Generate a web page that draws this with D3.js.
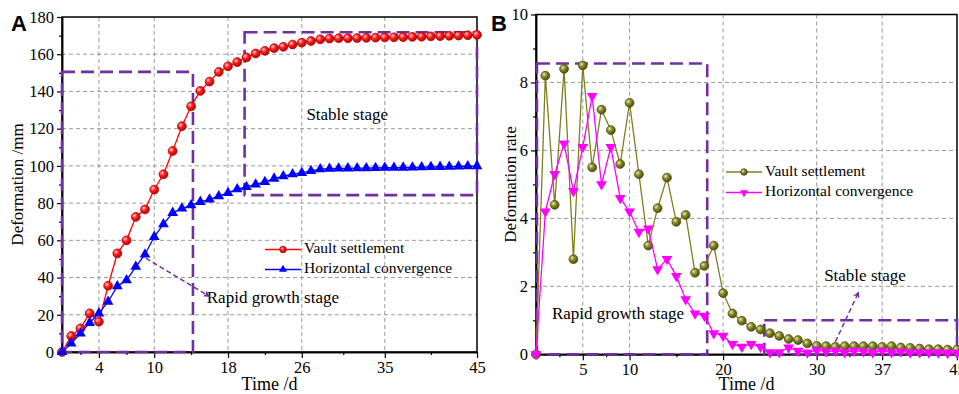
<!DOCTYPE html>
<html>
<head>
<meta charset="utf-8">
<script src="https://cdn.jsdelivr.net/npm/d3@7"></script>
<style>
  body { margin: 0; background: #fff; }
  svg { display: block; }
  text { font-family: "Liberation Serif", "Times New Roman", serif; fill: #000; }
</style>
</head>
<body>
<div id="chart"></div>
<script>
// ---- data ----
const days = [0,1,2,3,4,5,6,7,8,9,10,11,12,13,14,15,16,17,18,19,20,21,22,23,24,25,26,27,28,29,30,31,32,33,34,35,36,37,38,39,40,41,42,43,44,45];

// Panel A: cumulative deformation (mm)
const vaultSettlement = [0,8.6,12.7,20.8,16.3,35.6,53,60,72.6,76.6,
  87.3,95.5,108,121.3,132,140.3,145.3,150.5,153.5,155.8,
  158.3,160.4,161.8,163.3,164,165.2,166.2,167.1,168,168.4,
  168.6,168.6,168.7,168.8,168.9,169,169.1,169.2,169.3,169.4,
  169.6,169.7,169.9,170,170.2,170.4];
const horizontalConvergence = [0,4.6,10,15.7,20.8,27,35.4,38.6,45.8,52.4,
  61.9,68.7,74.8,77.1,78.9,80.7,82,83.7,85.5,87.5,
  88.7,90,91.4,93.2,94.5,95.5,96.2,97.3,98.2,98.5,
  98.6,98.7,98.8,98.8,98.9,99,99,99.1,99.2,99.3,
  99.4,99.5,99.6,99.7,99.8,99.9];

// Panel B: deformation rate
const vaultRate = [0,8.2,4.4,8.4,2.8,8.5,5.5,7.2,6.6,5.6,
  7.4,5.3,3.2,4.3,5.2,3.9,4.1,2.4,2.6,3.2,
  1.8,1.2,0.99,0.81,0.73,0.62,0.54,0.45,0.42,0.32,
  0.25,0.24,0.22,0.24,0.24,0.24,0.24,0.22,0.24,0.2,
  0.19,0.17,0.15,0.15,0.14,0.14];
const horizontalRate = [0,4.2,5.3,6.2,4.8,6.1,7.6,5.0,6.1,4.6,
  4.2,3.6,3.7,2.5,2.8,2.3,1.62,1.2,1.13,0.62,
  0.54,0.3,0.22,0.3,0.22,0.06,0.06,0.2,0.1,0.05,
  0.12,0.08,0.1,0.06,0.1,0.08,0.05,0.1,0.06,0.08,
  0.05,0.06,0.05,0.05,0.04,0.04];

// tick labels
const xTicksA = [4,10,18,26,35,45];
const xMinorA = [2,7,14,22,30.5,40];
const yTicksA = [0,20,40,60,80,100,120,140,160,180];
const yMinorA = [10,30,50,70,90,110,130,150,170];
const xTicksB = [5,10,20,30,37,45];
const xMinorB = [2.5,7.5,15,25,33.5,41];
const yTicksB = [0,2,4,6,8,10];
const yMinorB = [1,3,5,7,9];

const seriesNames = ["Vault settlement", "Horizontal convergence"];

// ---- drawing ----
const svg = d3.select("#chart").append("svg")
    .attr("width", 959)
    .attr("height", 394);

const defs = svg.append("defs");

// shaded "ball" markers
function sphereGradient(id, light, base, dark) {
    const grad = defs.append("radialGradient")
        .attr("id", id)
        .attr("cx", "35%").attr("cy", "35%").attr("r", "65%");
    grad.append("stop").attr("offset", "0%").attr("stop-color", light);
    grad.append("stop").attr("offset", "45%").attr("stop-color", base);
    grad.append("stop").attr("offset", "100%").attr("stop-color", dark);
}
sphereGradient("ballRed", "#ffd0d0", "#ff2020", "#c00000");
sphereGradient("ballOlive", "#e8e8b0", "#8a8a2a", "#4f4f10");

defs.append("marker")
    .attr("id", "arrowHead")
    .attr("viewBox", "0 0 10 10")
    .attr("refX", 9).attr("refY", 5)
    .attr("markerWidth", 7).attr("markerHeight", 7)
    .attr("markerUnits", "userSpaceOnUse")
    .attr("orient", "auto")
    .append("path")
    .attr("d", "M0,0 L10,5 L0,10 L3,5 Z")
    .attr("fill", "#7030a0");

const purple = "#7030a0";

function drawPanel(p) {
    const x = d3.scaleLinear().domain([0, 45]).range([p.left, p.right]);
    const y = d3.scaleLinear().domain(p.yDomain).range([p.bottom, p.top]);
    const g = svg.append("g");

    // dashed grid
    g.append("g").selectAll("line")
        .data(p.xTicks.filter(t => t < 45))
        .join("line")
        .attr("x1", d => x(d)).attr("x2", d => x(d))
        .attr("y1", p.top).attr("y2", p.bottom)
        .attr("stroke", "#9a9a9a").attr("stroke-width", 1)
        .attr("stroke-dasharray", "4,3");
    g.append("g").selectAll("line")
        .data(p.yTicks.filter(t => t > p.yDomain[0] && t < p.yDomain[1]))
        .join("line")
        .attr("x1", p.left).attr("x2", p.right)
        .attr("y1", d => y(d)).attr("y2", d => y(d))
        .attr("stroke", "#9a9a9a").attr("stroke-width", 1)
        .attr("stroke-dasharray", "4,3");

    // axes
    g.append("g")
        .attr("transform", `translate(0,${p.bottom})`)
        .call(d3.axisBottom(x).tickValues(p.xTicks).tickSize(6).tickSizeOuter(0).tickPadding(3));
    g.append("g")
        .attr("transform", `translate(0,${p.bottom})`)
        .call(d3.axisBottom(x).tickValues(p.xMinor).tickSize(3).tickSizeOuter(0).tickFormat(""));
    g.append("g")
        .attr("transform", `translate(${p.left},0)`)
        .call(d3.axisLeft(y).tickValues(p.yTicks).tickSize(5).tickSizeOuter(0).tickPadding(3));
    g.append("g")
        .attr("transform", `translate(${p.left},0)`)
        .call(d3.axisLeft(y).tickValues(p.yMinor).tickSize(3).tickSizeOuter(0).tickFormat(""));
    g.selectAll(".tick line").attr("stroke", "#000").attr("stroke-width", 1.2);
    g.selectAll(".domain").attr("stroke", "#000").attr("stroke-width", 1.5);
    g.selectAll(".tick text")
        .attr("font-family", "Liberation Serif")
        .style("font-family", '"Liberation Serif", serif')
        .style("font-size", "16.5px").attr("fill", "#000");

    // frame
    g.append("rect")
        .attr("x", p.left).attr("y", p.top)
        .attr("width", p.right - p.left).attr("height", p.bottom - p.top)
        .attr("fill", "none").attr("stroke", "#000").attr("stroke-width", 1.5);

    // stage boxes
    p.boxes.forEach(b => {
        g.append("rect")
            .attr("x", x(b.x0)).attr("y", y(b.y1))
            .attr("width", x(b.x1) - x(b.x0)).attr("height", y(b.y0) - y(b.y1))
            .attr("fill", "none").attr("stroke", purple).attr("stroke-width", 2.6)
            .attr("stroke-dasharray", "13,6");
    });

    // series
    p.series.forEach(s => {
        const line = d3.line().x((d, i) => x(days[i])).y(d => y(d));
        g.append("path")
            .datum(s.values)
            .attr("d", line)
            .attr("fill", "none")
            .attr("stroke", s.color)
            .attr("stroke-width", 1.3);
        const pts = g.append("g").selectAll("g")
            .data(s.values)
            .join("g")
            .attr("transform", (d, i) => `translate(${x(days[i])},${y(d)})`);
        drawMarker(pts, s);
    });

    // annotations
    p.labels.forEach(l => {
        g.append("text")
            .attr("x", x(l.x)).attr("y", y(l.y))
            .attr("dominant-baseline", "middle")
            .style("font-size", "17px")
            .text(l.text);
    });
    g.append("line")
        .attr("x1", x(p.arrow.x0)).attr("y1", y(p.arrow.y0))
        .attr("x2", x(p.arrow.x1)).attr("y2", y(p.arrow.y1))
        .attr("stroke", purple).attr("stroke-width", 1.5)
        .attr("stroke-dasharray", "5,3")
        .attr("marker-end", "url(#arrowHead)");

    // legend
    const lg = g.append("g").attr("transform", `translate(${p.legend.x},${p.legend.y})`);
    p.series.forEach((s, i) => {
        const row = lg.append("g").attr("transform", `translate(0,${i * p.legend.step})`);
        row.append("line").attr("x1", 0).attr("x2", p.legend.len)
            .attr("stroke", s.color).attr("stroke-width", 1.5);
        drawMarker(row.append("g").attr("transform", `translate(${p.legend.len / 2},0)`).datum(0), s, 0.75);
        row.append("text")
            .attr("x", p.legend.len + 3).attr("y", 0)
            .attr("dominant-baseline", "middle")
            .style("font-size", "15.5px")
            .text(seriesNames[i]);
    });

    // axis titles
    g.append("text")
        .attr("x", (p.left + p.right) / 2).attr("y", 390)
        .attr("text-anchor", "middle")
        .style("font-size", "18px")
        .text("Time /d");
    g.append("text")
        .attr("transform", `translate(${p.yTitleX},${(p.top + p.bottom) / 2}) rotate(-90)`)
        .attr("text-anchor", "middle")
        .style("font-size", "17px")
        .text(p.yTitle);

    // panel letter
    svg.append("text")
        .attr("x", p.letterX).attr("y", 31)
        .style("font-family", "Arial, 'Liberation Sans', sans-serif")
        .style("font-weight", "bold")
        .style("font-size", "22px")
        .text(p.letter);
}

function drawMarker(sel, s, k = 1) {
    if (s.marker === "ball") {
        sel.append("circle")
            .attr("r", 4.4 * k)
            .attr("fill", `url(#${s.gradient})`)
            .attr("stroke", s.dark).attr("stroke-width", 0.8);
    } else {
        sel.append("path")
            .attr("d", d3.symbol().type(d3.symbolTriangle).size(50 * k * k))
            .attr("transform", s.marker === "down" ? "rotate(180)" : null)
            .attr("fill", s.color);
    }
}

drawPanel({
    letter: "A", letterX: 11,
    left: 62, right: 477, top: 17, bottom: 352,
    yDomain: [0, 180],
    xTicks: xTicksA, xMinor: xMinorA, yTicks: yTicksA, yMinor: yMinorA,
    yTitle: "Deformation /mm", yTitleX: 23,
    series: [
        {values: vaultSettlement, color: "#ff0000", marker: "ball", gradient: "ballRed", dark: "#b00000"},
        {values: horizontalConvergence, color: "#0000ff", marker: "up"}
    ],
    boxes: [
        {x0: 0, x1: 14.2, y0: 0, y1: 150.5},
        {x0: 19.8, x1: 45, y0: 84.3, y1: 171.8}
    ],
    labels: [
        {text: "Stable stage", x: 26.5, y: 127},
        {text: "Rapid growth stage", x: 15.7, y: 28.5}
    ],
    arrow: {x0: 9.1, y0: 50.4, x1: 16.0, y1: 29.8},
    legend: {x: 265, y: 249.5, step: 20, len: 36}
});

drawPanel({
    letter: "B", letterX: 491,
    left: 536, right: 957, top: 14.5, bottom: 354.3,
    yDomain: [0, 10],
    xTicks: xTicksB, xMinor: xMinorB, yTicks: yTicksB, yMinor: yMinorB,
    yTitle: "Deformation rate", yTitleX: 516,
    series: [
        {values: vaultRate, color: "#7f7f20", marker: "ball", gradient: "ballOlive", dark: "#4f4f10"},
        {values: horizontalRate, color: "#ff00ff", marker: "down"}
    ],
    boxes: [
        {x0: 0.1, x1: 18.3, y0: 0, y1: 8.56},
        {x0: 24.4, x1: 45, y0: 0, y1: 1.0}
    ],
    labels: [
        {text: "Rapid growth stage", x: 1.7, y: 1.16},
        {text: "Stable stage", x: 30.8, y: 2.28}
    ],
    arrow: {x0: 32.0, y0: 0.37, x1: 34.5, y1: 1.84},
    legend: {x: 726, y: 172, step: 20.5, len: 36}
});
</script>
</body>
</html>
